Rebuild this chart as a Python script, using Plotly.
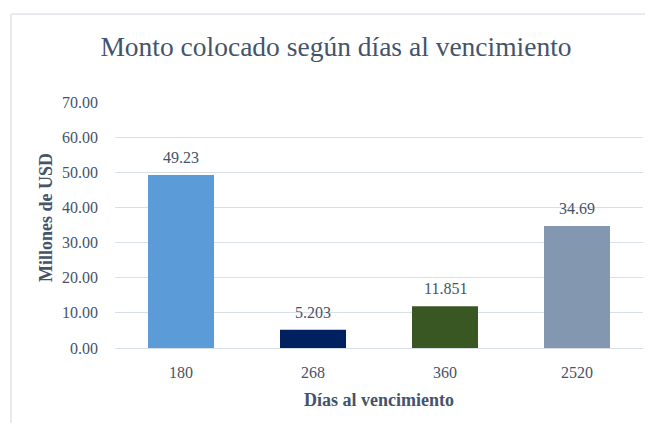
import plotly.graph_objects as go

categories = ["180", "268", "360", "2520"]
values = [49.23, 5.203, 11.851, 34.69]
value_labels = ["49.23", "5.203", "11.851", "34.69"]
bar_colors = ["#5b9bd8", "#002060", "#385723", "#8497b0"]
y_ticks = [0, 10, 20, 30, 40, 50, 60, 70]
y_tick_labels = ["0.00", "10.00", "20.00", "30.00", "40.00", "50.00", "60.00", "70.00"]

FONT = "Liberation Serif"
TXT = "#44546a"

OFF = 8  # page body margin
W, H = 653 - OFF, 423 - OFF
L, T = 115 - OFF, 102 - OFF
R = W - (643 - OFF)
B = H - (348 - OFF)
pw, ph = W - L - R, H - T - B

def px(x):
    return (x - OFF - L) / pw

def py(y):
    return (H - B - (y - OFF)) / ph

fig = go.Figure()
fig.add_trace(go.Bar(
    x=categories, y=values,
    marker=dict(color=bar_colors, line=dict(width=0)),
    width=0.5,
    hoverinfo="x+y",
))

for i, (v, t) in enumerate(zip(values, value_labels)):
    fig.add_annotation(
        x=i, y=v, text=t, showarrow=False,
        xref="x", yref="y", yanchor="bottom", yshift=7,
        font=dict(family=FONT, size=16, color=TXT),
    )

fig.update_layout(
    width=W, height=H,
    margin=dict(l=L, r=R, t=T, b=B),
    paper_bgcolor="white", plot_bgcolor="white",
    showlegend=False,
    font=dict(family=FONT, color=TXT),
    title=dict(
        text="Monto colocado según días al vencimiento",
        font=dict(family=FONT, size=27.5, color=TXT),
        x=px(336), xref="paper", xanchor="center",
        y=1 - (46 - OFF) / H, yref="container", yanchor="middle",
    ),
    xaxis=dict(
        type="category",
        categoryorder="array", categoryarray=categories,
        range=[-0.5, len(categories) - 0.5],
        tickfont=dict(family=FONT, size=16, color=TXT),
        showgrid=False, showline=False, ticks="",
        ticklabelstandoff=13,
    ),
    yaxis=dict(
        range=[0, 70],
        tickvals=y_ticks, ticktext=y_tick_labels,
        tickfont=dict(family=FONT, size=16, color=TXT),
        showgrid=True, gridcolor="#d9dfe7", gridwidth=1,
        zeroline=True, zerolinecolor="#d9dfe7", zerolinewidth=1,
        showline=False, ticks="", ticklabelstandoff=16,
    ),
)

# axis titles
fig.add_annotation(
    text="<b>Días al vencimiento</b>", x=px(379), y=py(400),
    xref="paper", yref="paper", showarrow=False,
    font=dict(family=FONT, size=18, color=TXT),
    xanchor="center", yanchor="middle",
)
fig.add_annotation(
    text="<b>Millones de USD</b>", x=px(46), y=py(218),
    xref="paper", yref="paper", showarrow=False, textangle=-90,
    font=dict(family=FONT, size=18, color=TXT),
    xanchor="center", yanchor="middle",
)

# chart-area border (top and left visible)
fig.add_shape(type="line", xref="paper", yref="paper",
              x0=px(11), x1=px(660), y0=py(14), y1=py(14),
              line=dict(color="#dfe4ea", width=1.5))
fig.add_shape(type="line", xref="paper", yref="paper",
              x0=px(11), x1=px(11), y0=py(14), y1=py(430),
              line=dict(color="#dfe4ea", width=1.5))

fig.write_html("out.html")
